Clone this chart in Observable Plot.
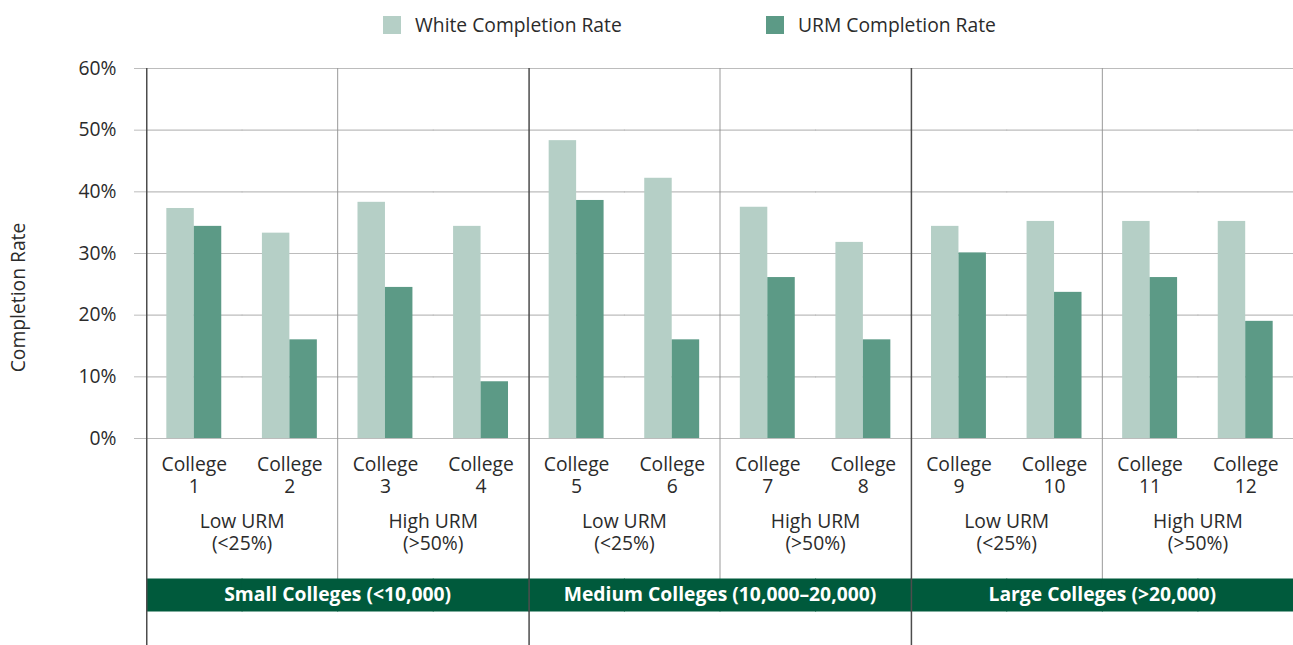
<!DOCTYPE html>
<html>
<head>
<meta charset="utf-8">
<script src="https://cdn.jsdelivr.net/npm/d3@7"></script>
<script src="https://cdn.jsdelivr.net/npm/@observablehq/plot@0.6"></script>
<style>
  body { margin: 0; background: #fff; font-family: "Open Sans", sans-serif; color: #2b2b2b; }
  #legend { position: relative; height: 50px; width: 1293px; }
  .lg { position: absolute; top: 12px; font-size: 19.3px; line-height: 26px; white-space: nowrap; }
  .sw { position: absolute; top: 16px; width: 18px; height: 18px; }
  #chart svg { display: block; }
</style>
</head>
<body>
<div id="legend"></div>
<div id="chart"></div>
<script>
const colleges = ["College 1", "College 2", "College 3", "College 4", "College 5", "College 6",
                  "College 7", "College 8", "College 9", "College 10", "College 11", "College 12"];
const whiteRates = [37.3, 33.3, 38.3, 34.4, 48.3, 42.2, 37.5, 31.8, 34.4, 35.2, 35.2, 35.2];
const urmRates   = [34.4, 16.0, 24.5,  9.2, 38.6, 16.0, 26.1, 16.0, 30.1, 23.7, 26.1, 19.0];
const seriesNames = ["White Completion Rate", "URM Completion Rate"];
const seriesColors = ["#b5cfc6", "#5c9a86"];
const urmGroups = ["Low URM\n(<25%)", "High URM\n(>50%)", "Low URM\n(<25%)", "High URM\n(>50%)", "Low URM\n(<25%)", "High URM\n(>50%)"];
const sizeGroups = ["Small Colleges (<10,000)", "Medium Colleges (10,000–20,000)", "Large Colleges (>20,000)"];
const yTicks = [0, 10, 20, 30, 40, 50, 60];
const yLabel = "Completion Rate";

// legend
const legend = document.getElementById("legend");
const legendX = [383, 766];
seriesNames.forEach((s, i) => {
  const sw = document.createElement("div");
  sw.className = "sw"; sw.style.left = legendX[i] + "px"; sw.style.background = seriesColors[i];
  const t = document.createElement("div");
  t.className = "lg"; t.style.left = (legendX[i] + 32) + "px"; t.textContent = s;
  legend.append(sw, t);
});

const rows = colleges.flatMap((c, i) => [
  {college: c, series: seriesNames[0], value: whiteRates[i]},
  {college: c, series: seriesNames[1], value: urmRates[i]}
]);

const W = 1293, ML = 146, MR = 0, MT = 18, MB = 207, H = 595;
const facetW = (W - ML - MR) / colleges.length;
const blackEdges = colleges.filter((c, i) => i % 4 === 0);
const grayEdges = colleges.filter((c, i) => i % 4 === 2);
const font = "Open Sans";
const txt = "#2b2b2b";
const fs = 19.3;

const chart = Plot.plot({
  width: W, height: H,
  marginLeft: ML, marginRight: MR, marginTop: MT, marginBottom: MB,
  style: {fontFamily: font, fontSize: fs + "px", color: txt, background: "white", overflow: "visible"},
  fx: {domain: colleges, padding: 0, round: false, axis: null},
  x: {domain: seriesNames, paddingInner: 0, paddingOuter: 0.74, round: false, axis: null},
  y: {domain: [0, 60], axis: null},
  color: {domain: seriesNames, range: seriesColors},
  marks: [
    Plot.ruleY(yTicks, {stroke: "#bcbcbc", strokeWidth: 1.2, insetRight: -1}),
    Plot.axisY({ticks: yTicks, tickFormat: d => d + "%", tickSize: 12, tickPadding: 18,
                stroke: "#bcbcbc", fill: txt, fontSize: fs, label: null}),
    Plot.barY(rows, {fx: "college", x: "series", y: "value", fill: "series"}),
    Plot.rect(grayEdges, {fx: d => d, fill: "#9a9a9a", insetRight: facetW - 1, insetBottom: -140}),
    Plot.ruleY([0], {dy: 156.5, stroke: "#005a3c", strokeWidth: 33, insetRight: -1}),
    Plot.rect(blackEdges, {fx: d => d, fill: "#4d4d4d", insetRight: facetW - 1.5, insetBottom: -MB}),
    Plot.text(colleges, {fx: d => d, text: d => d.replace(" ", "\n"), frameAnchor: "bottom",
                         lineAnchor: "middle", lineHeight: 1.14, dy: 36, fill: txt, fontSize: fs}),
    Plot.text(urmGroups, {fx: (d, i) => colleges[i * 2], text: d => d, frameAnchor: "bottom-right",
                          textAnchor: "middle", lineAnchor: "middle", lineHeight: 1.14, dy: 93, fill: txt, fontSize: fs}),
    Plot.text(sizeGroups, {fx: (d, i) => colleges[i * 4 + 1], text: d => d, frameAnchor: "bottom-right",
                           textAnchor: "middle", lineAnchor: "middle", dy: 156.5, fill: "white",
                           fontWeight: "bold", fontSize: fs}),
    Plot.text([yLabel], {fx: () => colleges[0], text: d => d, frameAnchor: "left", textAnchor: "middle",
                         rotate: -90, dx: -128, dy: 44, fill: txt, fontSize: fs})
  ]
});
document.getElementById("chart").append(chart);
</script>
</body>
</html>
